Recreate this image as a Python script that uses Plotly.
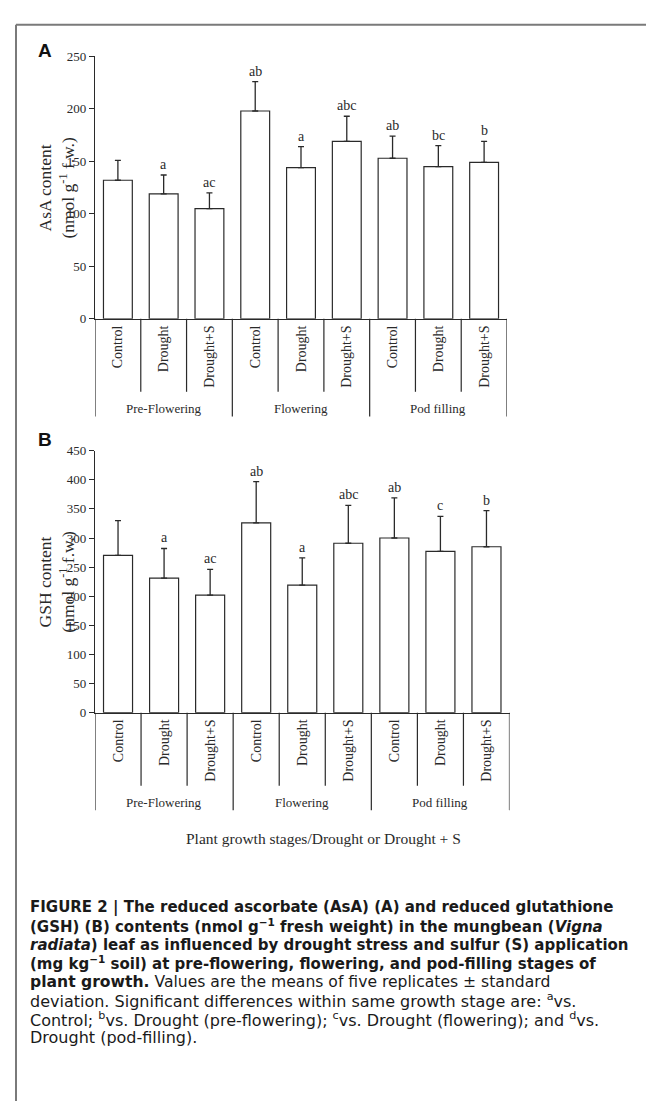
import plotly.graph_objects as go

# ---------------- data ----------------
categories = ["Control", "Drought", "Drought+S"] * 3
stages = ["Pre-Flowering", "Flowering", "Pod filling"]
asa_mean = [132, 119, 105, 198, 144, 169, 153, 145, 149]
asa_sd = [19, 18, 15, 28, 20, 24, 21, 20, 20]
asa_sig = ["", "a", "ac", "ab", "a", "abc", "ab", "bc", "b"]
gsh_mean = [270, 231, 202, 326, 219, 291, 300, 277, 285]
gsh_sd = [60, 51, 44, 71, 47, 65, 69, 60, 62]
gsh_sig = ["", "a", "ac", "ab", "a", "abc", "ab", "c", "b"]
x_title = "Plant growth stages/Drought or Drought + S"
caption_lines = [
    "<b>FIGURE 2 | The reduced ascorbate (AsA) (A) and reduced glutathione</b>",
    "<b>(GSH) (B) contents (nmol g<sup>\u22121</sup> fresh weight) in the mungbean (<i>Vigna</i></b>",
    "<b><i>radiata</i>) leaf as influenced by drought stress and sulfur (S) application</b>",
    "<b>(mg kg<sup>\u22121</sup> soil) at pre-flowering, flowering, and pod-filling stages of</b>",
    "<b>plant growth.</b> Values are the means of five replicates \u00b1 standard",
    "deviation. Significant differences within same growth stage are: <sup>a</sup>vs.",
    "Control; <sup>b</sup>vs. Drought (pre-flowering); <sup>c</sup>vs. Drought (flowering); and <sup>d</sup>vs.",
    "Drought (pod-filling).",
]

# ---------------- layout helpers ----------------
W, H = 654, 1101
SERIF = "Liberation Serif, Times New Roman, serif"
SANS = "Liberation Sans, Arial, sans-serif"
CAP_FONT = "DejaVu Sans, Liberation Sans, sans-serif"
INK = "#2a2a2a"


def px(x):
    return x / W


def py(y):
    return 1 - y / H


panels = [
    dict(mean=asa_mean, sd=asa_sd, sig=asa_sig, top=42, bottom=308, left=87, right=499,
         ymax=250, title="AsA content<br>(nmol g<sup>-1</sup> f.w.)", letter="A", letter_y=36),
    dict(mean=gsh_mean, sd=gsh_sd, sig=gsh_sig, top=441.7, bottom=707.3, left=87, right=501.5,
         ymax=450, title="GSH content<br>(nmol g<sup>-1</sup> f.w.)", letter="B", letter_y=430),
]

fig = go.Figure()
shapes = []
annotations = []
xs = list(range(len(categories)))

for k, p in enumerate(panels):
    sx = "" if k == 0 else str(k + 1)
    xa, ya = "x" + sx, "y" + sx
    fig.add_trace(go.Bar(
        x=xs, y=p["mean"], xaxis=xa, yaxis=ya, width=0.63,
        marker=dict(color="white", line=dict(color=INK, width=1.2)),
        error_y=dict(type="data", array=p["sd"], arrayminus=[0] * len(xs), symmetric=False,
                     color=INK, thickness=1.3, width=3),
        showlegend=False, hoverinfo="skip",
    ))
    # significance letters
    for i, s in enumerate(p["sig"]):
        if s:
            annotations.append(dict(x=i, y=p["mean"][i] + p["sd"][i], xref=xa, yref=ya,
                                    text=s, showarrow=False, xanchor="center",
                                    yanchor="bottom", yshift=1,
                                    font=dict(family=SERIF, size=14, color=INK)))
    fig.layout["xaxis" + sx] = dict(
        domain=[px(p["left"]), px(p["right"])], anchor=ya, range=[-0.5, len(xs) - 0.5],
        tickmode="array", tickvals=xs, ticktext=categories, tickangle=-90,
        tickfont=dict(family=SERIF, size=14, color=INK), ticks="",
        showline=True, linecolor=INK, linewidth=1.2, showgrid=False, zeroline=False,
        fixedrange=True,
    )
    fig.layout["yaxis" + sx] = dict(
        domain=[py(p["bottom"]), py(p["top"])], anchor=xa, range=[0, p["ymax"]], dtick=50,
        ticks="outside", ticklen=5, tickcolor=INK, tickwidth=1.2,
        tickfont=dict(family=SERIF, size=13, color=INK),
        showline=True, linecolor=INK, linewidth=1.2, showgrid=False, zeroline=False,
        fixedrange=True,
    )
    # y title
    annotations.append(dict(x=px(49), y=py((p["top"] + p["bottom"]) / 2), xref="paper",
                            yref="paper", text=p["title"], textangle=-90, showarrow=False,
                            xanchor="center", yanchor="middle",
                            font=dict(family=SERIF, size=17.5, color=INK)))
    # panel letter
    annotations.append(dict(x=px(37), y=py(p["letter_y"]), xref="paper", yref="paper",
                            text="<b>" + p["letter"] + "</b>", showarrow=False,
                            xanchor="center", yanchor="middle",
                            font=dict(family=SANS, size=19, color="#111")))
    # separators below axis
    ydom = "y" + sx + " domain" if sx else "y domain"
    span = p["bottom"] - p["top"]
    for b in range(len(xs) + 1):
        group_edge = b % 3 == 0
        depth = 99 if group_edge else 74
        shapes.append(dict(type="line", xref=xa, yref=ydom, x0=b - 0.5, x1=b - 0.5,
                           y0=0, y1=-depth / span, line=dict(color=INK, width=1.2)))
    # stage labels
    for g, st in enumerate(stages):
        annotations.append(dict(x=3 * g + 1, y=-91 / span, xref=xa, yref=ydom, text=st,
                                showarrow=False, xanchor="center", yanchor="middle",
                                font=dict(family=SERIF, size=13, color=INK)))

# x title
annotations.append(dict(x=px(315.5), y=py(835), xref="paper", yref="paper", text=x_title,
                        showarrow=False, xanchor="center", yanchor="middle",
                        font=dict(family=SERIF, size=15.5, color=INK)))

# caption
cap_y = [905, 924, 942.8, 961.6, 980.4, 999.2, 1018, 1036.8]
cap_size = [15.0, 15.0, 15.0, 15.0, 15.6, 16.0, 16.0, 16.0]
for t, yy, fs in zip(caption_lines, cap_y, cap_size):
    annotations.append(dict(x=px(21), y=py(yy), xref="paper", yref="paper", text=t,
                            showarrow=False, xanchor="left", yanchor="middle", align="left",
                            borderpad=0,
                            font=dict(family=CAP_FONT, size=fs, color="#1a1a1a")))

# frame
frame_col = "#7a7a7a"
shapes.append(dict(type="line", xref="paper", yref="paper", x0=px(8), x1=px(8), y0=0,
                   y1=py(10), line=dict(color=frame_col, width=2)))
shapes.append(dict(type="line", xref="paper", yref="paper", x0=px(8), x1=1, y0=py(10),
                   y1=py(10), line=dict(color=frame_col, width=2)))

fig.update_layout(
    width=W, height=H, margin=dict(l=0, r=0, t=0, b=0),
    paper_bgcolor="white", plot_bgcolor="white",
    shapes=shapes, annotations=annotations, bargap=0.37,
)

fig.write_html("out.html", config={"displayModeBar": False})
